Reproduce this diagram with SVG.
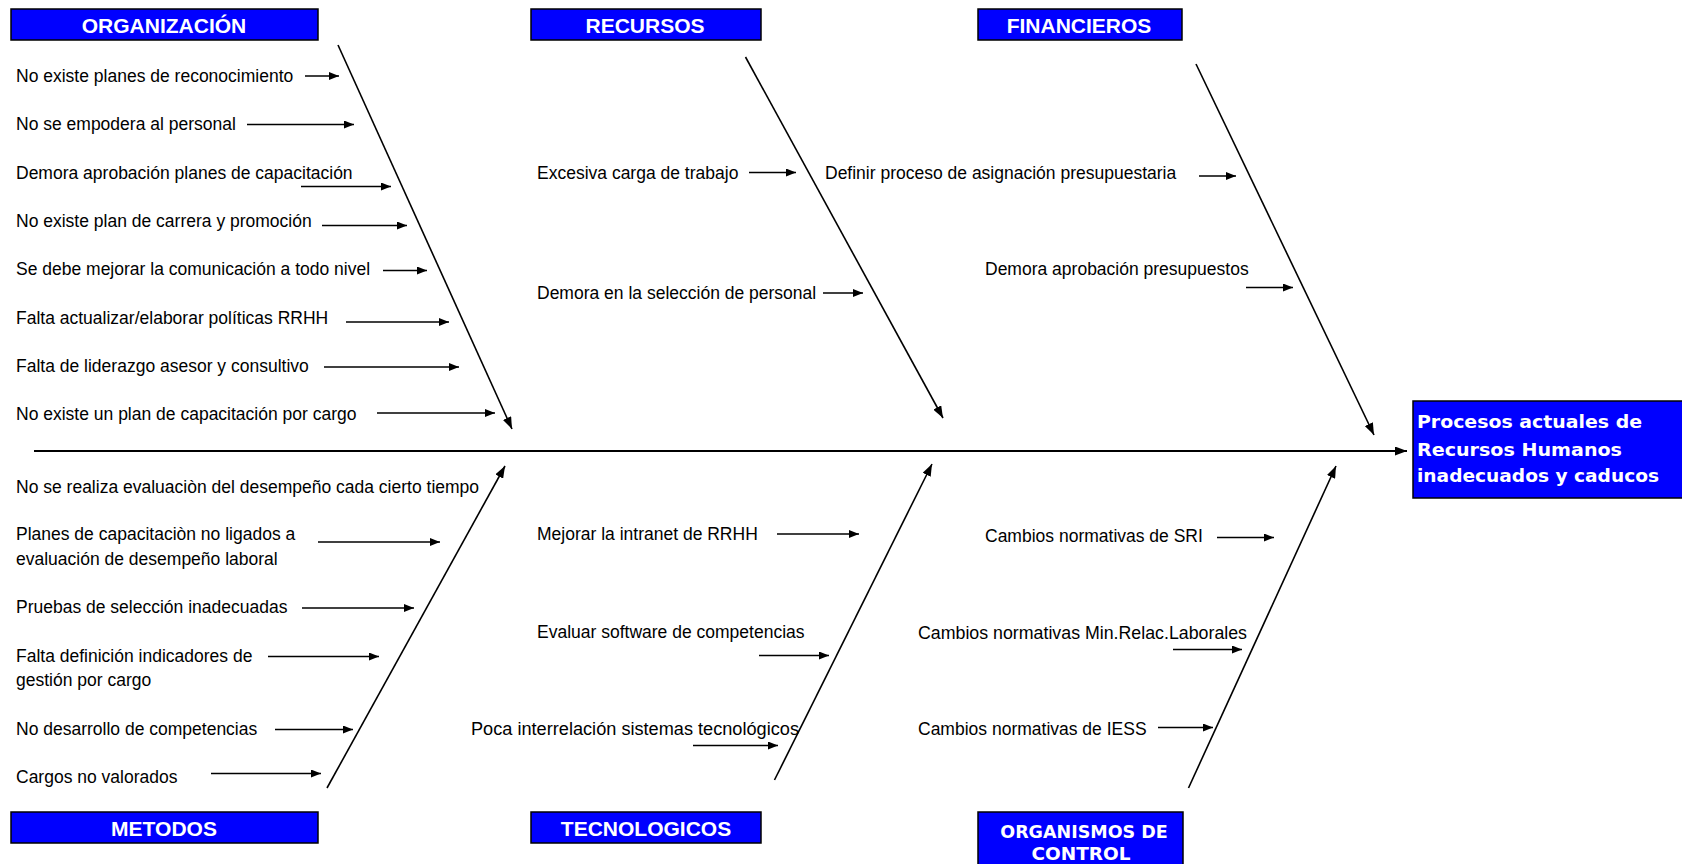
<svg xmlns="http://www.w3.org/2000/svg" width="1682" height="864" viewBox="0 0 1682 864">
<style>
.lbl{font-family:"Liberation Sans",Arial,sans-serif;font-size:17.5px;fill:#000}
.cat{font-family:"Liberation Sans",Arial,sans-serif;font-weight:bold;font-size:21px;fill:#fff;text-anchor:middle}
.cat2{font-family:"DejaVu Sans",Verdana,sans-serif;font-weight:bold;font-size:17.5px;fill:#fff;text-anchor:middle}
.head{font-family:"DejaVu Sans",Verdana,sans-serif;font-weight:bold;font-size:18.5px;fill:#fff}
.box{fill:#0000FF;stroke:#000;stroke-width:1.5}
.arr{stroke:#000;stroke-width:1.6;fill:none;marker-end:url(#ah)}
.bone{stroke:#000;stroke-width:1.6;fill:none;marker-end:url(#ah2)}
</style>
<defs>
<marker id="ah" viewBox="0 0 10 8" refX="10" refY="4" markerWidth="10" markerHeight="8" markerUnits="userSpaceOnUse" orient="auto"><path d="M0,0 L10,4 L0,8 z" fill="#000"/></marker>
<marker id="ah2" viewBox="0 0 12 9" refX="12" refY="4.5" markerWidth="12" markerHeight="9" markerUnits="userSpaceOnUse" orient="auto"><path d="M0,0 L12,4.5 L0,9 z" fill="#000"/></marker>
</defs>
<rect width="1682" height="864" fill="#fff"/>

<g id="cat-organizacion"><rect class="box" x="11" y="9" width="307" height="31"/><text class="cat" x="164" y="33">ORGANIZACIÓN</text></g>
<g id="cat-recursos"><rect class="box" x="531" y="9" width="230" height="31"/><text class="cat" x="645" y="33">RECURSOS</text></g>
<g id="cat-financieros"><rect class="box" x="978" y="9" width="204" height="31"/><text class="cat" x="1079" y="33">FINANCIEROS</text></g>
<g id="cat-metodos"><rect class="box" x="11" y="812" width="307" height="31"/><text class="cat" x="164" y="836">METODOS</text></g>
<g id="cat-tecnologicos"><rect class="box" x="531" y="812" width="230" height="31"/><text class="cat" x="646" y="836">TECNOLOGICOS</text></g>
<g id="cat-organismos"><rect class="box" x="978" y="812" width="205" height="60"/><text class="cat2" x="1084" y="838">ORGANISMOS DE</text><text class="cat2" x="1081" y="860" textLength="99" lengthAdjust="spacingAndGlyphs">CONTROL</text></g>

<g id="effect"><rect class="box" x="1413" y="401" width="275" height="97"/>
<text class="head" x="1417" y="428" textLength="225" lengthAdjust="spacingAndGlyphs">Procesos actuales de</text>
<text class="head" x="1417" y="456" textLength="205" lengthAdjust="spacingAndGlyphs">Recursos Humanos</text>
<text class="head" x="1417" y="482" textLength="242" lengthAdjust="spacingAndGlyphs">inadecuados y caducos</text></g>

<g id="org-1"><text class="lbl" x="16" y="82">No existe planes de reconocimiento</text></g>
<g id="org-2"><text class="lbl" x="16" y="130">No se empodera al personal</text></g>
<g id="org-3"><text class="lbl" x="16" y="178.5">Demora aprobación planes de capacitación</text></g>
<g id="org-4"><text class="lbl" x="16" y="227">No existe plan de carrera y promoción</text></g>
<g id="org-5"><text class="lbl" x="16" y="275">Se debe mejorar la comunicación a todo nivel</text></g>
<g id="org-6"><text class="lbl" x="16" y="323.5">Falta actualizar/elaborar políticas RRHH</text></g>
<g id="org-7"><text class="lbl" x="16" y="372">Falta de liderazgo asesor y consultivo</text></g>
<g id="org-8"><text class="lbl" x="16" y="420">No existe un plan de capacitación por cargo</text></g>

<g id="met-1"><text class="lbl" x="16" y="493">No se realiza evaluaciòn del desempeño cada cierto tiempo</text></g>
<g id="met-2"><text class="lbl" x="16" y="540">Planes de capacitaciòn no ligados a</text><text class="lbl" x="16" y="565">evaluación de desempeño laboral</text></g>
<g id="met-3"><text class="lbl" x="16" y="613">Pruebas de selección inadecuadas</text></g>
<g id="met-4"><text class="lbl" x="16" y="661.5">Falta definición indicadores de</text><text class="lbl" x="16" y="686">gestión por cargo</text></g>
<g id="met-5"><text class="lbl" x="16" y="735">No desarrollo de competencias</text></g>
<g id="met-6"><text class="lbl" x="16" y="783">Cargos no valorados</text></g>

<g id="rec-1"><text class="lbl" x="537" y="178.5">Excesiva carga de trabajo</text></g>
<g id="rec-2"><text class="lbl" x="537" y="299">Demora en la selección de personal</text></g>

<g id="fin-1"><text class="lbl" x="825" y="178.5">Definir proceso de asignación presupuestaria</text></g>
<g id="fin-2"><text class="lbl" x="985" y="275">Demora aprobación presupuestos</text></g>

<g id="tec-1"><text class="lbl" x="537" y="540">Mejorar la intranet de RRHH</text></g>
<g id="tec-2"><text class="lbl" x="537" y="638">Evaluar software de competencias</text></g>
<g id="tec-3"><text class="lbl" x="471" y="734.5" textLength="328" lengthAdjust="spacingAndGlyphs">Poca interrelación sistemas tecnológicos</text></g>

<g id="orgc-1"><text class="lbl" x="985" y="541.5">Cambios normativas de SRI</text></g>
<g id="orgc-2"><text class="lbl" x="918" y="638.5" textLength="329" lengthAdjust="spacingAndGlyphs">Cambios normativas Min.Relac.Laborales</text></g>
<g id="orgc-3"><text class="lbl" x="918" y="735">Cambios normativas de IESS</text></g>

<g id="connectors">
<line x1="34" y1="451" x2="1407" y2="451" stroke="#000" stroke-width="2" marker-end="url(#ah2)"/>
<line class="bone" x1="338" y1="45" x2="512" y2="429"/>
<line class="bone" x1="745.5" y1="57" x2="943" y2="418"/>
<line class="bone" x1="1196" y1="64" x2="1374" y2="435"/>
<line class="bone" x1="327" y1="788" x2="505" y2="466"/>
<line class="bone" x1="774.5" y1="780" x2="932" y2="464"/>
<line class="bone" x1="1188.5" y1="788" x2="1336" y2="466"/>

<line class="arr" x1="305" y1="76" x2="339" y2="76"/>
<line class="arr" x1="247" y1="124.5" x2="354" y2="124.5"/>
<line class="arr" x1="301" y1="186.5" x2="391" y2="186.5"/>
<line class="arr" x1="322" y1="225.5" x2="407" y2="225.5"/>
<line class="arr" x1="383" y1="270.5" x2="427" y2="270.5"/>
<line class="arr" x1="346" y1="322" x2="449" y2="322"/>
<line class="arr" x1="324" y1="367" x2="459" y2="367"/>
<line class="arr" x1="377" y1="413" x2="495" y2="413"/>

<line class="arr" x1="318" y1="542" x2="440" y2="542"/>
<line class="arr" x1="302" y1="608" x2="414" y2="608"/>
<line class="arr" x1="268" y1="656.5" x2="379" y2="656.5"/>
<line class="arr" x1="275" y1="729.5" x2="353" y2="729.5"/>
<line class="arr" x1="211" y1="773.5" x2="321" y2="773.5"/>

<line class="arr" x1="749" y1="172.5" x2="796" y2="172.5"/>
<line class="arr" x1="823" y1="293" x2="863" y2="293"/>

<line class="arr" x1="1199" y1="176" x2="1236" y2="176"/>
<line class="arr" x1="1246" y1="287.5" x2="1293" y2="287.5"/>

<line class="arr" x1="777" y1="534" x2="859" y2="534"/>
<line class="arr" x1="759" y1="655.5" x2="829" y2="655.5"/>
<line class="arr" x1="693" y1="745.5" x2="778" y2="745.5"/>

<line class="arr" x1="1217" y1="537.5" x2="1274" y2="537.5"/>
<line class="arr" x1="1173" y1="649.5" x2="1242" y2="649.5"/>
<line class="arr" x1="1158" y1="727.5" x2="1213" y2="727.5"/>
</g>
</svg>
